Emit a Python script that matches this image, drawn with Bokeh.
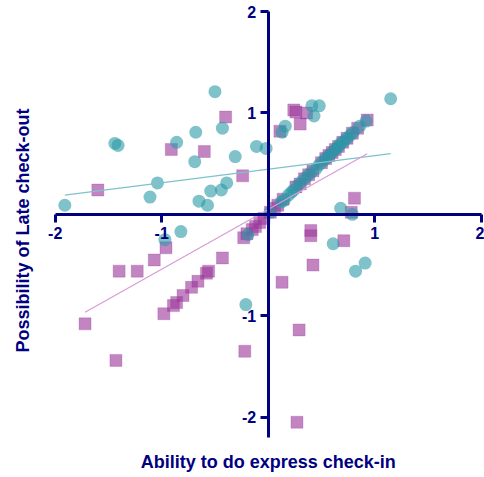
import math
from bokeh.plotting import figure
from bokeh.models import LinearAxis, FixedTicker, Range1d, Label
from bokeh.embed import file_html
from bokeh.resources import INLINE

# ---- data ----
teal_x = [-0.50, -1.44, -1.41, -0.86, -0.68, -0.43, -0.69, -0.31, -0.11, -0.02,
          -1.04, -1.11, -1.91, -0.54, -0.44, -0.39, -0.65, -0.57, -0.82, -0.97,
          -0.21, 1.15, 0.41, 0.48, 0.43, 0.16, 0.13, 0.68, 0.79, 0.61, 0.91, 0.82,
          -0.19, 0.02, 0.12, 0.15, 0.19, 0.22, 0.24, 0.28, 0.32, 0.36, 0.40, 0.45,
          0.48, 0.52, 0.55, 0.58, 0.61, 0.64, 0.66, 0.68, 0.71, 0.74, 0.77, 0.80,
          0.86, 0.92]
teal_y = [1.21, 0.70, 0.68, 0.71, 0.81, 0.85, 0.52, 0.57, 0.67, 0.65,
          0.31, 0.17, 0.09, 0.23, 0.24, 0.31, 0.13, 0.09, -0.17, -0.25,
          -0.89, 1.14, 1.07, 1.07, 0.97, 0.87, 0.81, 0.06, 0.00, -0.29, -0.48, -0.56,
          -0.20, 0.02, 0.12, 0.14, 0.19, 0.22, 0.24, 0.29, 0.33, 0.37, 0.41, 0.45,
          0.49, 0.53, 0.56, 0.59, 0.62, 0.65, 0.67, 0.70, 0.72, 0.75, 0.78, 0.81,
          0.87, 0.92]

purple_x = [-0.40, -0.91, -0.60, -0.24, -1.60, 0.26, 0.36, 0.30, 0.11, 0.81,
            0.78, 0.40, 0.40, 0.71, 0.42, 0.13, 0.29, 0.27, -0.22, -0.96,
            -1.07, -1.40, -1.23, -1.72, -1.43, 0.24,
            -0.98, -0.89, -0.86, -0.80, -0.72, -0.66, -0.58, -0.56, -0.43, -0.23,
            -0.20, -0.15, -0.12, -0.08, -0.04, 0.02, 0.06, 0.09, 0.14, 0.26, 0.30,
            0.34, 0.38, 0.42, 0.50, 0.54, 0.57, 0.60, 0.63, 0.66, 0.70, 0.74, 0.79,
            0.84, 0.93]
purple_y = [0.96, 0.64, 0.62, 0.38, 0.24, 1.01, 1.00, 0.89, 0.82, 0.16,
            0.02, -0.16, -0.21, -0.26, -0.50, -0.67, -1.14, -2.05, -1.35, -0.33,
            -0.45, -0.56, -0.56, -1.08, -1.44, 1.03,
            -0.98, -0.90, -0.87, -0.80, -0.72, -0.66, -0.58, -0.56, -0.43, -0.23,
            -0.19, -0.15, -0.12, -0.08, -0.04, 0.02, 0.06, 0.09, 0.15, 0.27, 0.30,
            0.35, 0.39, 0.43, 0.51, 0.55, 0.58, 0.61, 0.64, 0.67, 0.71, 0.75, 0.80,
            0.85, 0.93]

# linear fits (slope, intercept)
teal_fit = (0.134, 0.445)
purple_fit = (0.59, 0.05)

tick_values = [-2, -1, 1, 2]
tick_labels = ["-2", "-1", "1", "2"]
x_title = "Ability to do express check-in"
y_title = "Possibility of Late check-out"

NAVY = "#000080"
TEAL = "#2a9aa6"
PURPLE = "#993399"
FONT = "Liberation Sans"

# the plotting frame fills the whole canvas; axes cross at the origin
p = figure(width=484, height=477, output_backend="svg", toolbar_location=None,
           x_axis_type=None, y_axis_type=None,
           x_range=Range1d(-2.514, 2.031), y_range=Range1d(-2.595, 2.109),
           min_border_left=0, min_border_right=0, min_border_top=0,
           min_border_bottom=0)
p.outline_line_color = None
p.xgrid.visible = False
p.ygrid.visible = False
p.background_fill_color = "white"
p.border_fill_color = "white"


def make_axis(bounds):
    ax = LinearAxis(fixed_location=0, bounds=bounds,
                    ticker=FixedTicker(ticks=tick_values, minor_ticks=[]))
    ax.major_label_overrides = {float(v): t for v, t in zip(tick_values, tick_labels)}
    ax.axis_line_color = NAVY
    ax.axis_line_width = 3
    ax.major_tick_line_color = NAVY
    ax.major_tick_line_width = 3
    ax.major_tick_out = 8
    ax.major_tick_in = 0
    ax.minor_tick_line_color = None
    ax.major_label_text_color = NAVY
    ax.major_label_text_font = FONT
    ax.major_label_text_font_style = "bold"
    ax.major_label_text_font_size = "16px"
    return ax


xax = make_axis((-2, 2))
xax.major_label_standoff = 5
yax = make_axis((-2.2, 2))
yax.major_label_standoff = 4
p.add_layout(xax, "below")
p.add_layout(yax, "left")

tx0, tx1 = min(teal_x), max(teal_x)
px0, px1 = min(purple_x), max(purple_x)

# points
p.scatter(purple_x, purple_y, marker="square", size=12, fill_color=PURPLE,
          fill_alpha=0.6, line_color=PURPLE, line_alpha=0.25, line_width=1)
p.scatter(teal_x, teal_y, marker="circle", size=13, fill_color=TEAL,
          fill_alpha=0.6, line_color=None)

# regression lines
p.line([tx0, tx1], [teal_fit[0] * tx0 + teal_fit[1], teal_fit[0] * tx1 + teal_fit[1]],
       line_color="#7fc2ca", line_width=1.2)
p.line([px0, px1], [purple_fit[0] * px0 + purple_fit[1], purple_fit[0] * px1 + purple_fit[1]],
       line_color="#d79cd7", line_width=1.2)

# axis titles
p.add_layout(Label(x=0, y=-2.447, text=x_title, text_align="center",
                   text_baseline="middle", text_color=NAVY, text_font=FONT,
                   text_font_style="bold", text_font_size="18px"))
p.add_layout(Label(x=-2.307, y=-0.16, text=y_title, angle=math.pi / 2,
                   text_align="center", text_baseline="middle", text_color=NAVY,
                   text_font=FONT, text_font_style="bold", text_font_size="18px"))

open("out.html", "w").write(file_html(p, INLINE))
